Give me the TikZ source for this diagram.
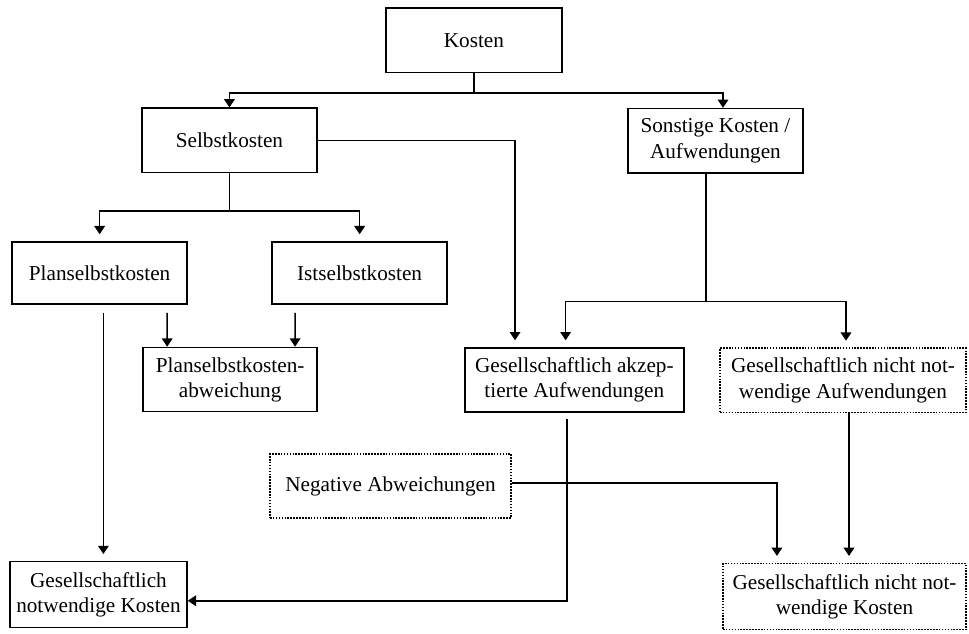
\documentclass[tikz,border=0pt]{standalone}
\usepackage{fontspec}
\setmainfont{Liberation Serif}
\usetikzlibrary{arrows.meta}

\begin{document}
\begin{tikzpicture}[>={Triangle[length=2.2mm,width=2.8mm]},line width=1.2pt,
  font=\fontsize{16}{19}\selectfont,
  box/.style={draw,align=center,inner sep=2pt,minimum height=1.7cm},
  dotbox/.style={box,densely dotted},
  gap/.style={shorten <=0.22cm},
  tipgap/.style={shorten >=0.18cm}]
\useasboundingbox (0,0) rectangle (25.68,16.80);
\node[box,minimum width=4.66cm] (kosten) at (12.56,15.73) {Kosten};
\node[box,minimum width=4.64cm] (selbst) at (6.08,13.08) {Selbstkosten};
\node[box,minimum width=4.64cm] (sonst) at (18.96,13.07) {Sonstige Kosten /\\Aufwendungen};
\node[box,minimum width=4.64cm,minimum height=1.64cm] (plan) at (2.64,9.57) {Planselbstkosten};
\node[box,minimum width=4.64cm,minimum height=1.64cm] (ist) at (9.53,9.57) {Istselbstkosten};
\node[box,minimum width=4.61cm] (abw) at (6.10,6.74) {Planselbstkosten-\\abweichung};
\node[box,minimum width=5.80cm] (akz) at (15.22,6.73) {Gesellschaftlich akzep-\\tierte Aufwendungen};
\node[dotbox,minimum width=6.52cm] (nnaufw) at (22.34,6.72) {Gesellschaftlich nicht not-\\wendige Aufwendungen};
\node[dotbox,minimum width=6.39cm] (neg) at (10.35,3.92) {Negative Abweichungen};
\node[box,minimum width=4.69cm,minimum height=1.75cm] (gnk) at (2.61,1.04) {Gesellschaftlich\\notwendige Kosten};
\node[dotbox,minimum width=6.44cm,minimum height=1.75cm] (nnk) at (22.38,0.99) {Gesellschaftlich nicht not-\\wendige Kosten};

\draw[->] (kosten.south) -- ++(0,-0.53) -| (selbst.north);
\draw[->] (kosten.south) -- ++(0,-0.53) -| ([xshift=0.2cm]sonst.north);
\draw[->,tipgap] (selbst.south) -- ++(0,-1.0) -| (plan.north);
\draw[->,tipgap] (selbst.south) -- ++(0,-1.0) -| (ist.north);
\draw[->,tipgap] (selbst.east) -| ([xshift=-1.57cm]akz.north);
\draw[->,tipgap] ([xshift=-0.25cm]sonst.south) -- ++(0,-3.39) -| ([xshift=-0.23cm]akz.north);
\draw[->,tipgap] ([xshift=-0.25cm]sonst.south) -- ++(0,-3.39) -| ([xshift=0.08cm]nnaufw.north);
\draw[->,gap,tipgap] ([xshift=0.1cm]plan.south) -- ([xshift=0.13cm]gnk.north);
\draw[->,gap] ([xshift=1.79cm]plan.south) -- ([xshift=-1.67cm]abw.north);
\draw[->,gap] ([xshift=-1.71cm]ist.south) -- ([xshift=1.72cm]abw.north);
\draw[->,shorten <=0.16cm] ([xshift=-0.2cm]akz.south) |- ([yshift=-0.16cm]gnk.east);
\draw[->,tipgap] ([yshift=0.08cm]neg.east) -| ([xshift=-1.79cm]nnk.north);
\draw[->,tipgap] ([xshift=0.16cm]nnaufw.south) -- ([xshift=0.12cm]nnk.north);
\end{tikzpicture}
\end{document}
